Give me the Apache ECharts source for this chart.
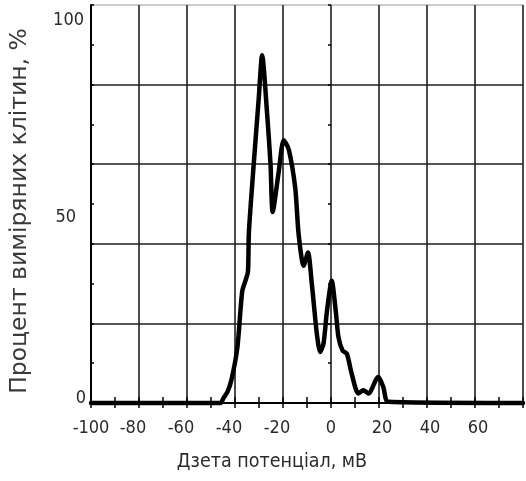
<!DOCTYPE html>
<html>
<head>
<meta charset="utf-8">
<script src="https://cdn.jsdelivr.net/npm/echarts@6/dist/echarts.min.js"></script>
<style>
html,body{margin:0;padding:0;background:#fff;}
#c{width:526px;height:481px;}
</style>
</head>
<body>
<div id="c"></div>
<script>
// Zeta potential (mV)
const zeta = [-100, -46, -45, -43, -41.3, -39, -37, -35.5, -34.6, -34.2, -32.2, -30.1, -28.7, -26.6, -25.2, -24.3, -21.8, -19.7, -17.6, -14.9, -13.5, -11.4, -9.6, -8, -5.9, -4.5, -3.1, -1.7, 0.3, 2, 3.1, 4.8, 6.6, 8.6, 11.4, 13.5, 15.6, 19.7, 21.8, 23.9, 80];
// Percent of measured cells
const percent = [0, 0, 1, 3, 6.3, 14, 28, 31, 33, 43, 60, 76.6, 87.4, 72.5, 60, 48, 58, 66, 63.7, 54, 42.5, 34.5, 37.8, 30, 17.4, 12.8, 15, 23, 30.7, 23, 16.6, 13.2, 12.4, 7.4, 2.4, 3.2, 2.4, 6.6, 4, 0.3, 0];
const xTicks = [-100, -80, -60, -40, -20, 0, 20, 40, 60];
const yTicks = [0, 50, 100];

const data = zeta.map((x, i) => [x, percent[i]]);
const chart = echarts.init(document.getElementById('c'), null, {renderer: 'canvas'});
const narrow = "'DejaVu Sans Condensed', 'Liberation Sans Narrow', 'Liberation Sans', sans-serif";
const gridColor = '#1e1e1e';

chart.setOption({
  animation: false,
  backgroundColor: '#fff',
  grid: {left: 91, right: 0, top: 5, bottom: 78, containLabel: false},
  xAxis: [
    {
      type: 'value', min: -100, max: 80, interval: 10, position: 'bottom',
      name: 'Дзета потенціал, мВ', nameLocation: 'middle', nameGap: 49,
      nameTextStyle: {fontFamily: narrow, fontSize: 19.5, color: '#2a2a2a', padding: [0, 70, 0, 0]},
      axisLine: {show: true, onZero: false, lineStyle: {color: '#000', width: 2}},
      axisTick: {show: true, inside: true, length: 6, lineStyle: {color: '#000', width: 1.5}},
      axisLabel: {
        margin: 16, color: '#2a2a2a', fontFamily: narrow, fontSize: 18,
        formatter: v => {
          if (xTicks.indexOf(v) < 0) return '';
          if (v < 0 && v > -100) return '{n|' + v + '}';
          if (v > 0) return '{p|' + v + '}';
          return '{z|' + v + '}';
        },
        rich: {
          n: {fontFamily: narrow, fontSize: 18, color: '#2a2a2a', padding: [0, 12, 0, 0]},
          p: {fontFamily: narrow, fontSize: 18, color: '#2a2a2a', padding: [0, 0, 0, 6]},
          z: {fontFamily: narrow, fontSize: 18, color: '#2a2a2a'}
        }
      },
      splitLine: {show: false}
    },
    {
      type: 'value', min: -100, max: 80, interval: 10, position: 'bottom',
      axisLine: {show: false},
      axisTick: {show: true, inside: false, length: 5, lineStyle: {color: '#000', width: 1.5}},
      axisLabel: {show: false},
      splitLine: {show: false}
    },
    {
      type: 'value', min: -100, max: 80, interval: 20, position: 'bottom',
      axisLine: {show: false}, axisTick: {show: false}, axisLabel: {show: false},
      splitLine: {show: true, lineStyle: {color: gridColor, width: 1.6}}
    }
  ],
  yAxis: [
    {
      type: 'value', min: 0, max: 100, interval: 10, position: 'left',
      name: 'Процент виміряних клітин, %', nameLocation: 'middle', nameGap: 59,
      nameTextStyle: {fontFamily: "'DejaVu Sans', sans-serif", fontSize: 23.5, color: '#3a3a3a', padding: [0, 14, 0, 0]},
      axisLine: {show: true, onZero: false, lineStyle: {color: '#000', width: 2}},
      axisTick: {show: true, inside: true, length: 3, lineStyle: {color: '#000', width: 1.5}},
      axisLabel: {
        margin: 5, color: '#2a2a2a', fontFamily: narrow, fontSize: 18,
        formatter: v => {
          if (v === 100) return '{a|100}';
          if (v === 50) return '{b|50}';
          if (v === 0) return '{c|0}';
          return '';
        },
        rich: {
          a: {fontFamily: narrow, fontSize: 18, color: '#2a2a2a', padding: [30, 2, 0, 0]},
          b: {fontFamily: narrow, fontSize: 18, color: '#2a2a2a', padding: [26, 10, 0, 0]},
          c: {fontFamily: narrow, fontSize: 18, color: '#2a2a2a', padding: [0, 0, 10, 0]}
        }
      },
      splitLine: {show: false}
    },
    {
      type: 'value', min: 0, max: 100, interval: 10, position: 'left',
      axisLine: {show: false},
      axisTick: {show: true, inside: false, length: 3, lineStyle: {color: '#000', width: 1.5}},
      axisLabel: {show: false}, splitLine: {show: false}
    },
    {
      type: 'value', min: 0, max: 100, interval: 20, position: 'left',
      axisLine: {show: false}, axisTick: {show: false}, axisLabel: {show: false},
      splitLine: {show: true, lineStyle: {color: [gridColor, gridColor, gridColor, gridColor, gridColor, '#bdbdbd'], width: 1.6}}
    }
  ],
  series: [{
    type: 'line', xAxisIndex: 0, yAxisIndex: 0,
    data: data, showSymbol: false, smooth: 0.25,
    lineStyle: {color: '#000', width: 4.5, join: 'round', cap: 'round'},
    clip: false, z: 5
  }]
});
</script>
</body>
</html>
